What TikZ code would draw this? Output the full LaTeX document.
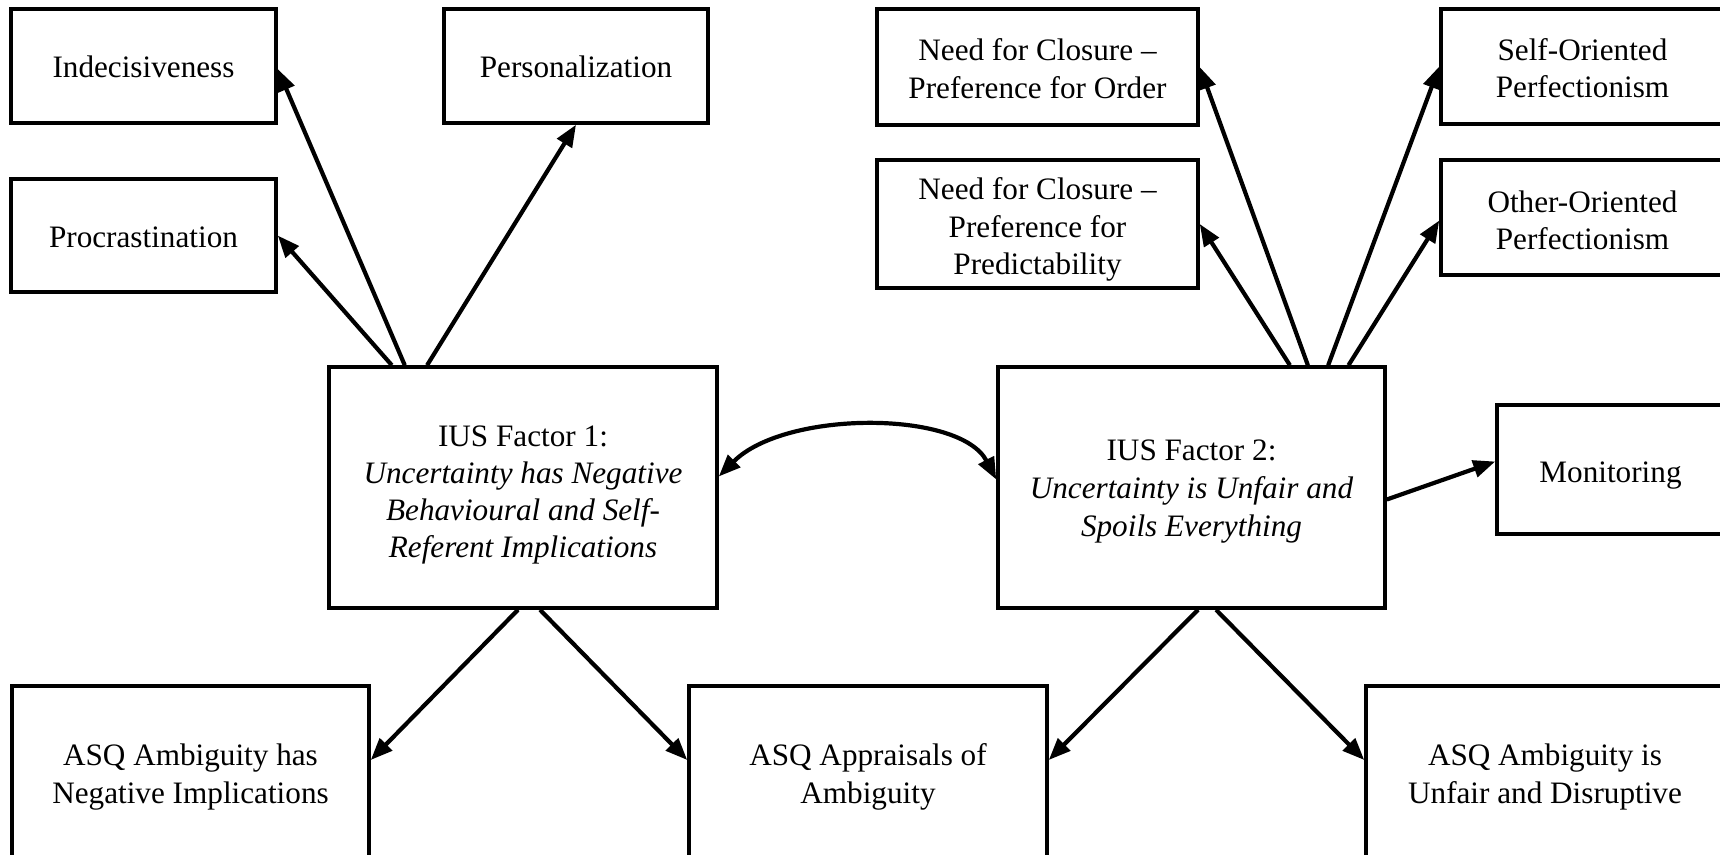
\documentclass[tikz,border=0pt]{standalone}
\usepackage{fontspec}
\setmainfont{Liberation Serif}
\usetikzlibrary{arrows.meta,calc}
\newcommand{\tb}[2]{\raisebox{-#1pt}[\height][\depth]{\begin{tabular}{@{}c@{}}#2\end{tabular}}}
\begin{document}
\begin{tikzpicture}[x=1pt,y=-1pt,
  box/.style={draw, line width=3.5pt, inner sep=0pt, font=\fontsize{31.2}{37.8}\selectfont},
  arr/.style={line width=4.2pt, -{Triangle[length=22pt,width=17pt]}},
  darr/.style={line width=4.2pt, {Triangle[length=22pt,width=17pt]}-{Triangle[length=22pt,width=17pt]}}]
\useasboundingbox (0,0) rectangle (1720,854);
\fill[white] (0,0) rectangle (1720,854);
\clip (0,0) rectangle (1720,854);

% top-left group
\node[box, minimum width=265pt, minimum height=114pt] (ind) at (143.5,66) {\tb{4.4}{Indecisiveness}};
\node[box, minimum width=264pt, minimum height=114pt] (pers) at (576,66) {\tb{4.4}{Personalization}};
\node[box, minimum width=265pt, minimum height=113pt] (proc) at (143.5,235.5) {\tb{4.4}{Procrastination}};

% top-right group
\node[box, minimum width=321pt, minimum height=116pt] (nfco) at (1037.5,67) {\tb{5}{Need for Closure --\\Preference for Order}};
\node[box, minimum width=321pt, minimum height=128pt] (nfcp) at (1037.5,224) {\tb{5.5}{Need for Closure --\\Preference for\\Predictability}};
\node[box, minimum width=283pt, minimum height=115pt] (self) at (1582.5,66.5) {\tb{5}{Self-Oriented\\Perfectionism}};
\node[box, minimum width=283pt, minimum height=115pt] (other) at (1582.5,217.5) {\tb{6}{Other-Oriented\\Perfectionism}};

% factors
\node[box, minimum width=388pt, minimum height=241pt, font=\fontsize{31.2}{37}\selectfont] (ius1) at (523,487.5)
  {\tb{7}{IUS Factor 1:\\\textit{Uncertainty has Negative}\\\textit{Behavioural and Self-}\\\textit{Referent Implications}}};
\node[box, minimum width=387pt, minimum height=241pt] (ius2) at (1191.5,487.5)
  {\tb{3.6}{IUS Factor 2:\\\textit{Uncertainty is Unfair and}\\\textit{Spoils Everything}}};
\node[box, minimum width=227pt, minimum height=129pt] (mon) at (1610.5,469.5) {\tb{5.5}{Monitoring}};

% bottom
\node[box, minimum width=357pt, minimum height=176pt] (asq1) at (190.5,774) {\tb{2.7}{ASQ Ambiguity has\\Negative Implications}};
\node[box, minimum width=358pt, minimum height=176pt] (asq2) at (868,774) {\tb{2.7}{ASQ Appraisals of\\Ambiguity}};
\node[box, minimum width=358pt, minimum height=176pt] (asq3) at (1545,774) {\tb{2.7}{ASQ Ambiguity is\\Unfair and Disruptive}};

% arrows from IUS1 up
\draw[arr] ($(ius1.north west)!0.165!(ius1.north east)$) -- (proc.east);
\draw[arr] ($(ius1.north west)!0.198!(ius1.north east)$) -- ($(ind.east)+(0,3)$);
\draw[arr] ($(ius1.north west)!0.255!(ius1.north east)$) -- (pers.south);

% arrows from IUS2 up
\draw[arr] ($(ius2.north west)!0.752!(ius2.north east)$) -- (nfcp.east);
\draw[arr] ($(ius2.north west)!0.798!(ius2.north east)$) -- (nfco.east);
\draw[arr] ($(ius2.north west)!0.850!(ius2.north east)$) -- (self.west);
\draw[arr] ($(ius2.north west)!0.902!(ius2.north east)$) -- ($(other.west)+(0,3)$);

% monitoring
\draw[arr] ($(ius2.east)+(0,12)$) -- ($(mon.west)+(0,-8)$);

% double-headed curve
\draw[darr] ($(ius1.east)+(0,-11)$) .. controls (785,410) and (960,410) .. ($(ius2.west)+(0,-8)$);

% arrows down
\draw[arr] ($(ius1.south)+(-5,0)$) -- ($(asq1.east)+(0,-14)$);
\draw[arr] ($(ius1.south)+(17,0)$) -- ($(asq2.west)+(0,-14)$);
\draw[arr] ($(ius2.south)+(6.5,0)$) -- ($(asq2.east)+(0,-14)$);
\draw[arr] ($(ius2.south)+(24.5,0)$) -- ($(asq3.west)+(0,-14)$);
\end{tikzpicture}
\end{document}
